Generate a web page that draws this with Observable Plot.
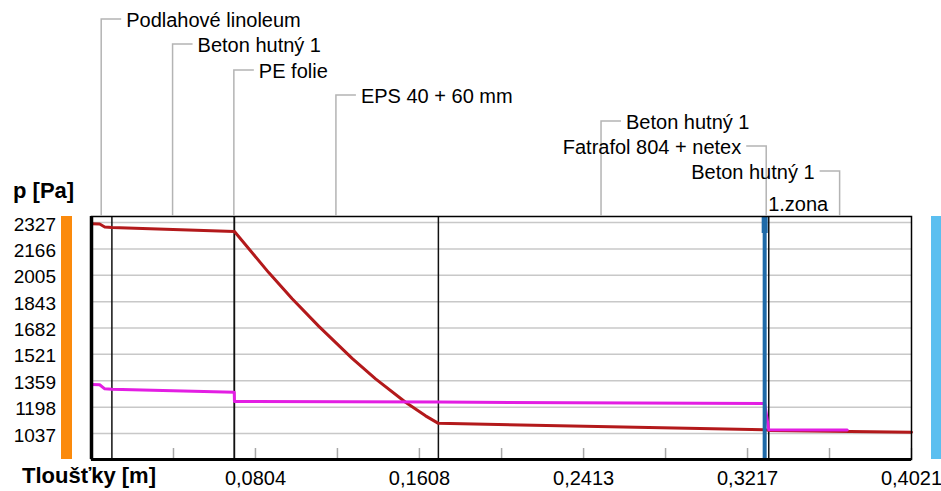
<!DOCTYPE html>
<html><head><meta charset="utf-8">
<script src="https://cdn.jsdelivr.net/npm/d3@7"></script>
<script src="https://cdn.jsdelivr.net/npm/@observablehq/plot@0.6"></script>
<style>
body{margin:0;background:#fff;}
#chart svg{display:block;}
</style></head><body><div id="chart"></div>
<script>
// ---- data ----
const layerNames = ["Podlahové linoleum","Beton hutný 1","PE folie","EPS 40 + 60 mm","Beton hutný 1","Fatrafol 804 + netex","Beton hutný 1"];
const layerBounds = [0, 0.01, 0.07, 0.0701, 0.1701, 0.3301, 0.3321, 0.4021];
const labelSide = ["right","right","right","right","right","left","left"];
const zoneName = "1.zona";
const zoneX = 0.3301;
const yTicks = [1037,1198,1359,1521,1682,1843,2005,2166,2327];
const xLabelTicks = [0.0804,0.1608,0.2413,0.3217,0.4021];
const xMinorTicks = [0.0402,0.0804,0.1206,0.1608,0.2011,0.2413,0.2815,0.3217,0.3619,0.4021];
const yTitle = "p [Pa]";
const xTitle = "Tloušťky [m]";
// saturated vapour pressure (red)
const satX = [0, 0.004, 0.0065, 0.01, 0.07, 0.0701, 0.0869, 0.0984, 0.1115, 0.1278, 0.1393, 0.1540, 0.1638, 0.1701, 0.3301, 0.3321, 0.4021];
const satP = [2320, 2318, 2300, 2297, 2273, 2272, 2021, 1861, 1692, 1496, 1371, 1228, 1145, 1099, 1060, 1056, 1045];
// partial vapour pressure (magenta)
const parX = [0, 0.004, 0.0065, 0.01, 0.07, 0.0701, 0.1701, 0.3301, 0.3321, 0.3706];
const parP = [1337, 1335, 1310, 1307, 1290, 1233, 1229, 1220, 1060, 1058];

// ---- layout ----
const W = 941, H = 491, mT = 216, mB = 32, mL = 91, mR = 30;
const frameH = H - mT - mB;
const yDomain = [878, 2364];
const FONT = "'Liberation Sans', Arial, sans-serif";

const sat = satX.map((x, i) => ({x, p: satP[i]}));
const par = parX.map((x, i) => ({x, p: parP[i]}));
const fmt = d => d.toFixed(4).replace(".", ",");

const chart = Plot.plot({
  width: W, height: H,
  marginTop: mT, marginBottom: mB, marginLeft: mL, marginRight: mR,
  style: {fontFamily: FONT, fontSize: "20px", color: "#000", background: "#fff", overflow: "visible"},
  x: {domain: [0, layerBounds[layerBounds.length - 1]]},
  y: {domain: yDomain},
  marks: [
    Plot.gridY(yTicks, {stroke: "#c8c8c8", strokeOpacity: 1, strokeWidth: 1.5}),
    Plot.tickX(xMinorTicks, {x: d => d, stroke: "#a8a8a8", strokeWidth: 1.5, insetTop: frameH - 11}),
    Plot.ruleX(layerBounds.slice(1, -1), {stroke: "#111", strokeWidth: 1.5}),
    Plot.line(sat, {x: "x", y: "p", stroke: "#b3191b", strokeWidth: 3}),
    Plot.line(par, {x: "x", y: "p", stroke: "#e31ee3", strokeWidth: 3}),
    Plot.ruleX([zoneX], {stroke: "#1f6aa8", strokeWidth: 4}),
    Plot.tickX([zoneX], {x: d => d, stroke: "#1f6aa8", strokeWidth: 6, insetBottom: frameH - 17}),
    Plot.frame({stroke: "#000", strokeWidth: 1.5}),
    Plot.ruleX([0], {stroke: "#000", strokeWidth: 3.5}),
    Plot.ruleY([yDomain[0]], {stroke: "#000", strokeWidth: 3}),
    Plot.axisY(yTicks, {tickSize: 0, tickPadding: 35.5, fontSize: 19, dy: 2, label: null, tickFormat: d => String(d)}),
    Plot.axisX(xLabelTicks, {tickSize: 0, tickPadding: 11, fontSize: 20, label: null, tickFormat: fmt})
  ]
});
document.getElementById("chart").appendChild(chart);

// ---- annotations using the plot's own x scale ----
const xs = chart.scale("x");
const fx = xs.apply ? (v => xs.apply(v)) : d3.scaleLinear(xs.domain, xs.range);
const svg = d3.select(chart);
const g = svg.append("g").attr("font-family", FONT).attr("font-size", 20).attr("fill", "#000").attr("text-anchor", "start");

// side bars (interior / exterior)
g.append("rect").attr("x", 61).attr("y", mT).attr("width", 11).attr("height", frameH).attr("fill", "#fb8a0c");
g.append("rect").attr("x", 931).attr("y", mT).attr("width", 10).attr("height", frameH).attr("fill", "#5bbff0");

// layer labels with leader lines
const rowY = [19, 44, 70, 95, 121, 146, 171];
layerNames.forEach((name, i) => {
  const mid = fx((layerBounds[i] + layerBounds[i + 1]) / 2);
  const y = rowY[i];
  const right = labelSide[i] === "right";
  const hx = right ? mid + 20 : mid - 20;
  g.append("path")
    .attr("d", `M${hx},${y}H${mid}V${mT}`)
    .attr("fill", "none").attr("stroke", "#b4b4b4").attr("stroke-width", 1.5);
  g.append("text")
    .attr("x", right ? hx + 5 : hx - 5)
    .attr("y", y + 8)
    .attr("text-anchor", right ? "start" : "end")
    .text(name);
});
g.append("text").attr("x", fx(zoneX) + 4).attr("y", 211).attr("text-anchor", "start").text(zoneName);

// axis titles
g.append("text").attr("x", 13).attr("y", 198).attr("text-anchor", "start").attr("font-weight", "bold").attr("font-size", 22).text(yTitle);
g.append("text").attr("x", 22).attr("y", 483).attr("text-anchor", "start").attr("font-weight", "bold").attr("font-size", 22).text(xTitle);
</script>
</body></html>
